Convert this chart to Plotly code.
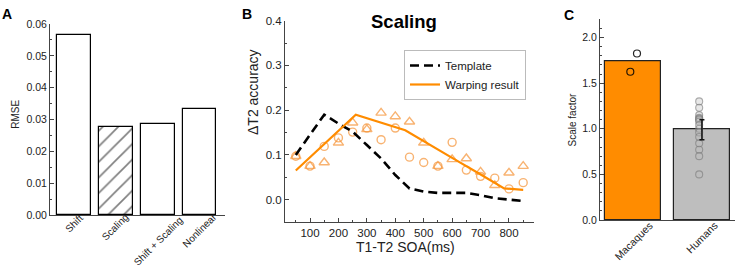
import plotly.graph_objects as go

# ---------------- data ----------------
# Panel A
methods = ["Shift", "Scaling", "Shift + Scaling", "Nonlinear"]
rmse = [0.0565, 0.0278, 0.0285, 0.0332]

# Panel B
soa = [50, 100, 150, 200, 250, 300, 350, 400, 450, 500, 550, 600, 650, 700, 750, 800, 850]
template = [0.100, 0.145, 0.190, 0.170, 0.152, 0.122, 0.092, 0.055, 0.025, 0.018,
            0.015, 0.015, 0.015, 0.010, 0.003, 0.000, -0.003]
warp_x = [50, 261, 435, 522, 609, 696, 783, 850]
warp_y = [0.065, 0.190, 0.155, 0.122, 0.090, 0.058, 0.025, 0.022]
circles = [0.097, 0.075, 0.119, 0.138, 0.151, 0.160, 0.134, 0.160, 0.095, 0.083,
           0.075, 0.128, 0.066, 0.052, 0.048, 0.024, 0.038]
triangles = [0.097, 0.075, 0.083, 0.127, 0.172, 0.157, 0.194, 0.186, 0.174, 0.127,
             0.075, 0.090, 0.092, 0.062, 0.032, 0.060, 0.075]

# Panel C
groups = ["Macaques", "Humans"]
scale_mean = [1.74, 0.99]
human_err = 0.11
macaque_vals = [1.825, 1.625]
human_vals = [1.30, 1.23, 1.15, 1.12, 1.11, 1.10, 1.08, 1.04, 1.00, 0.96, 0.91,
              0.84, 0.77, 0.70, 0.50]

# ---------------- figure ----------------
W, H = 736, 268
FONT = "Liberation Sans, Arial, sans-serif"
ORANGE = "#FF8C00"
PT = "rgba(245,150,60,0.72)"


def px(xpix):
    return xpix / W


def py(ypix):
    return 1 - ypix / H


def label_center_offset(text, size):
    # half of the rotated (45 deg) bounding-box height for a label of given font size
    length = 0.5 * size * len(text)
    return 0.707 * (length + size) / 2


fig = go.Figure()

# Panel A bars
fig.add_trace(go.Bar(
    x=list(range(len(methods))), y=rmse, width=0.81,
    marker=dict(color="white", line=dict(color="black", width=1.2),
                pattern=dict(shape=["", "/", "", ""], fgcolor="black", bgcolor="white",
                             size=11, solidity=0.15)),
    xaxis="x", yaxis="y", showlegend=False))

# Panel B
fig.add_trace(go.Scatter(x=soa, y=circles, mode="markers",
                         marker=dict(symbol="circle-open", size=8, color=PT, line=dict(width=1.4)),
                         xaxis="x2", yaxis="y2", showlegend=False))
fig.add_trace(go.Scatter(x=soa, y=triangles, mode="markers",
                         marker=dict(symbol="triangle-up-open", size=9, color=PT, line=dict(width=1.4)),
                         xaxis="x2", yaxis="y2", showlegend=False))
fig.add_trace(go.Scatter(x=soa, y=template, mode="lines", name="Template",
                         line=dict(color="black", width=2.6, dash="9px,5px"),
                         xaxis="x2", yaxis="y2"))
fig.add_trace(go.Scatter(x=warp_x, y=warp_y, mode="lines", name="Warping result",
                         line=dict(color=ORANGE, width=2.2),
                         xaxis="x2", yaxis="y2"))

# Panel C
fig.add_trace(go.Bar(x=[0, 1], y=scale_mean, width=0.81,
                     marker=dict(color=[ORANGE, "#BEBEBE"], line=dict(color="#222", width=1.2)),
                     xaxis="x3", yaxis="y3", showlegend=False))
fig.add_trace(go.Scatter(x=[0.057, -0.04], y=macaque_vals, mode="markers",
                         marker=dict(size=7, color="rgba(255,255,255,0)",
                                     line=dict(color="rgba(0,0,0,0.85)", width=1.2)),
                         xaxis="x3", yaxis="y3", showlegend=False))
fig.add_trace(go.Scatter(x=[0.96] * len(human_vals), y=human_vals, mode="markers",
                         marker=dict(size=7, color="rgba(190,190,190,0.35)",
                                     line=dict(color="rgba(120,120,120,0.6)", width=1.1)),
                         xaxis="x3", yaxis="y3", showlegend=False))
fig.add_trace(go.Scatter(x=[1], y=[scale_mean[1]], mode="markers",
                         marker=dict(size=1, opacity=0),
                         error_y=dict(type="constant", value=human_err, color="#111",
                                      thickness=1.5, width=2.5),
                         xaxis="x3", yaxis="y3", showlegend=False))

axis_common = dict(showline=True, linecolor="#444", linewidth=1, showgrid=False, automargin=False,
                   zeroline=False, tickcolor="#444", tickfont=dict(family=FONT, color="#222"))

fig.update_layout(
    width=W, height=H, autosize=False,
    margin=dict(l=0, r=0, t=0, b=0, pad=0, autoexpand=False),
    paper_bgcolor="white", plot_bgcolor="white",
    font=dict(family=FONT, color="#222"),
    xaxis=dict(domain=[px(50), px(225)], range=[-0.57, 3.61], showticklabels=False,
               ticks="", **axis_common),
    yaxis=dict(domain=[py(215), py(24)], range=[0, 0.06], dtick=0.01, tickformat=".2f",
               ticks="inside", ticklen=4, anchor="x",
               minor=dict(ticks="inside", ticklen=2, dtick=0.005, tickcolor="#444"),
               **{**axis_common, "tickfont": dict(family=FONT, size=10.5, color="#222")}),
    xaxis2=dict(domain=[px(285), px(534)], range=[12, 888], tickvals=[100, 200, 300, 400, 500, 600, 700, 800],
                ticks="inside", ticklen=4, anchor="y2",
                minor=dict(ticks="inside", ticklen=2, tickvals=[50, 150, 250, 350, 450, 550, 650, 750, 850],
                           tickcolor="#444"),
                **{**axis_common, "tickfont": dict(family=FONT, size=11.5, color="#222")}),
    yaxis2=dict(domain=[py(222), py(20.7)], range=[-0.05, 0.4], dtick=0.1, tickformat=".1f",
                ticks="inside", ticklen=4, anchor="x2",
                minor=dict(ticks="inside", ticklen=2, dtick=0.05, tickcolor="#444"),
                **{**axis_common, "tickfont": dict(family=FONT, size=11.5, color="#222")}),
    xaxis3=dict(domain=[px(600), px(735)], range=[-0.48, 1.48], showticklabels=False,
                ticks="", anchor="y3", **axis_common),
    yaxis3=dict(domain=[py(220), py(19.3)], range=[0, 2.2], dtick=0.5, tickformat=".1f",
                ticks="inside", ticklen=4, anchor="x3",
                minor=dict(ticks="inside", ticklen=2, dtick=0.1, tickcolor="#444"),
                **{**axis_common, "tickfont": dict(family=FONT, size=10.5, color="#222")}),
    legend=dict(x=px(404), y=py(50), xanchor="left", yanchor="top",
                bgcolor="white", bordercolor="#BBBBBB", borderwidth=1,
                font=dict(family=FONT, size=11.5, color="#222"), itemwidth=30,
                tracegroupgap=0),
    bargap=0,
)

ann = []
# panel letters
for letter, xp, yp in [("A", 0, 4), ("B", 240, 4), ("C", 562, 5)]:
    ann.append(dict(text=f"<b>{letter}</b>", x=px(xp), y=py(yp), xref="paper", yref="paper",
                    xanchor="left", yanchor="top", showarrow=False,
                    font=dict(family=FONT, size=14, color="black")))
# Panel A category labels (rotated, centred under each bar)
for i, lab in enumerate(methods):
    ann.append(dict(text=lab, x=i, xref="x", y=py(211 + label_center_offset(lab, 10)),
                    yref="paper", textangle=-45, borderpad=0,
                    xanchor="center", yanchor="middle", showarrow=False,
                    font=dict(family=FONT, size=10, color="#222")))
# Panel C category labels
for i, lab in enumerate(groups):
    ann.append(dict(text=lab, x=i, xref="x3", y=py(222 + label_center_offset(lab, 10.5)),
                    yref="paper", textangle=-45, borderpad=0,
                    xanchor="center", yanchor="middle", showarrow=False,
                    font=dict(family=FONT, size=10.5, color="#222")))
# axis titles
centred = dict(xref="paper", yref="paper", xanchor="center", yanchor="middle", showarrow=False)
ann.append(dict(text="RMSE", x=px(15.3), y=py(114.5), textangle=-90,
                font=dict(family=FONT, size=10, color="#222"), **centred))
ann.append(dict(text="ΔT2 accuracy", x=px(252.5), y=py(92.5), textangle=-90,
                font=dict(family=FONT, size=14, color="#222"), **centred))
ann.append(dict(text="T1-T2 SOA(ms)", x=px(406), y=py(246.7),
                font=dict(family=FONT, size=14, color="#222"), **centred))
ann.append(dict(text="Scale factor", x=px(572.5), y=py(120), textangle=-90,
                font=dict(family=FONT, size=10, color="#222"), **centred))
ann.append(dict(text="<b>Scaling</b>", x=px(404), y=py(21),
                font=dict(family=FONT, size=18.5, color="black"), **centred))
fig.update_layout(annotations=ann)

post = """
document.documentElement.style.margin='0';
document.documentElement.style.padding='0';
document.body.style.margin='0';
document.body.style.padding='0';
document.body.style.overflow='hidden';
var gd = document.getElementById('{plot_id}');
Plotly.relayout(gd, {width: 736, height: 268});
"""
fig.write_html("out.html", post_script=post,
               config={"responsive": False, "displayModeBar": False})
